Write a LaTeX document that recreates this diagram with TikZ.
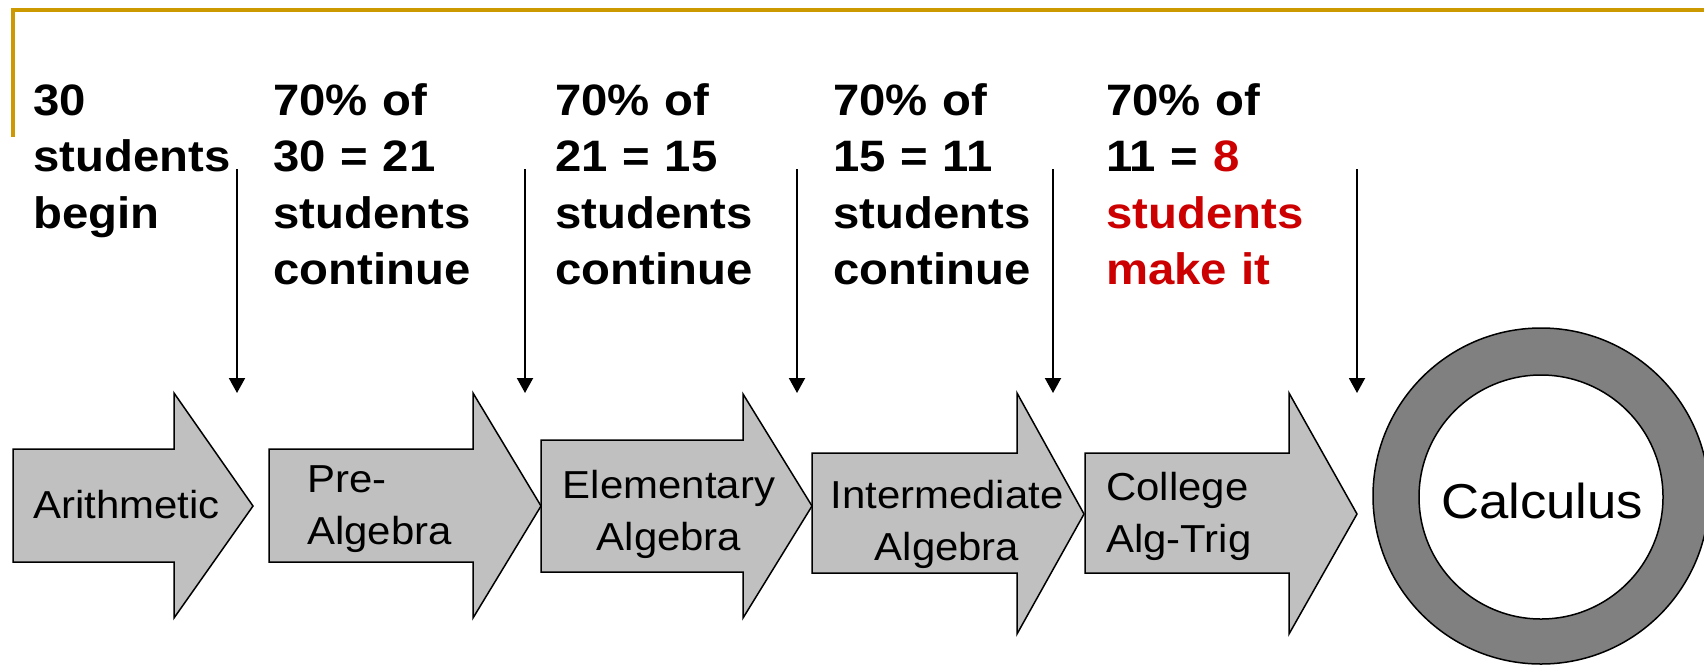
\documentclass[tikz,border=0pt]{standalone}
\usepackage{fontspec}
\setmainfont{Liberation Sans}[FakeStretch=1.075]
\usetikzlibrary{arrows.meta}
\definecolor{gold}{RGB}{204,153,0}
\definecolor{arrowgray}{RGB}{192,192,192}
\definecolor{ringgray}{RGB}{128,128,128}
\definecolor{hired}{RGB}{204,0,0}
% #1 body left, #2 head base x, #3 tip x, #4 body top, #5 body bottom, #6 head top, #7 head bottom, #8 tip y
\newcommand{\blkarrow}[8]{%
  \draw[blockarrow] (#1,#4) -- (#2,#4) -- (#2,#6) -- (#3,#8) -- (#2,#7) -- (#2,#5) -- (#1,#5) -- cycle;}
\begin{document}
\begin{tikzpicture}[x=1pt,y=-1pt,
  blockarrow/.style={draw=black,line width=1.5pt,fill=arrowgray,line join=miter},
  toplabel/.style={inner sep=0pt,anchor=base west,text width=260pt,align=left,
    font=\fontsize{44}{56.5}\selectfont\bfseries},
  steplabel/.style={inner sep=0pt,text width=260pt,font=\fontsize{39}{52}\selectfont},
  drop/.style={line width=2pt,-{Triangle[length=15pt,width=16pt]}},
  frameline/.style={draw=gold,line width=4pt}]
\useasboundingbox (0,0) rectangle (1704,665);
% gold frame
\draw[frameline] (13,137) -- (13,10) -- (1704,10);
% block arrows
\blkarrow{13}{174}{253}{449}{562}{393}{618}{506}
\blkarrow{269}{473}{541}{449}{562}{393}{618}{506}
\blkarrow{541}{743}{812}{440}{572}{394}{618}{506}
\blkarrow{812}{1017}{1084}{453}{573}{393}{634}{514}
\blkarrow{1085}{1289}{1357}{453}{573}{393}{634}{514}
% ring
\draw[line width=1.5pt,fill=ringgray] (1541,496) circle (168);
\draw[line width=1.5pt,fill=white] (1541,497) circle (122);
% step labels
\node[steplabel,anchor=base west,align=left] (arith) at (33,518) {Arithmetic};
\node[steplabel,anchor=base west,align=left] (prealg) at (307,492) {Pre-\\Algebra};
\node[steplabel,anchor=base,align=center] (elem) at (669,498) {Elementary\\Algebra};
\node[steplabel,anchor=base,align=center] (inter) at (947,508) {Intermediate\\Algebra};
\node[steplabel,anchor=base west,align=left] (coll) at (1106,500) {College\\Alg-Trig};
\node[inner sep=0pt,anchor=base,font=\fontsize{49}{58}\selectfont] (calc) at (1542,518) {Calculus};
% top labels
\node[toplabel] (t1) at (33,115) {30\\students\\begin};
\node[toplabel] (t2) at (273,115) {70\% of\\30 = 21\\students\\continue};
\node[toplabel] (t3) at (555,115) {70\% of\\21 = 15\\students\\continue};
\node[toplabel] (t4) at (833,115) {70\% of\\15 = 11\\students\\continue};
\node[toplabel] (t5) at (1106,115) {70\% of\\11 = \textcolor{hired}{8}\\\textcolor{hired}{students}\\\textcolor{hired}{make it}};
% drop arrows
\foreach \i/\x in {1/237,2/525,3/797,4/1053,5/1357}{
  \coordinate (s\i) at (\x,169);
  \coordinate (e\i) at (\x,393);
  \draw[drop] (s\i) -- (e\i);
}
\end{tikzpicture}
\end{document}
